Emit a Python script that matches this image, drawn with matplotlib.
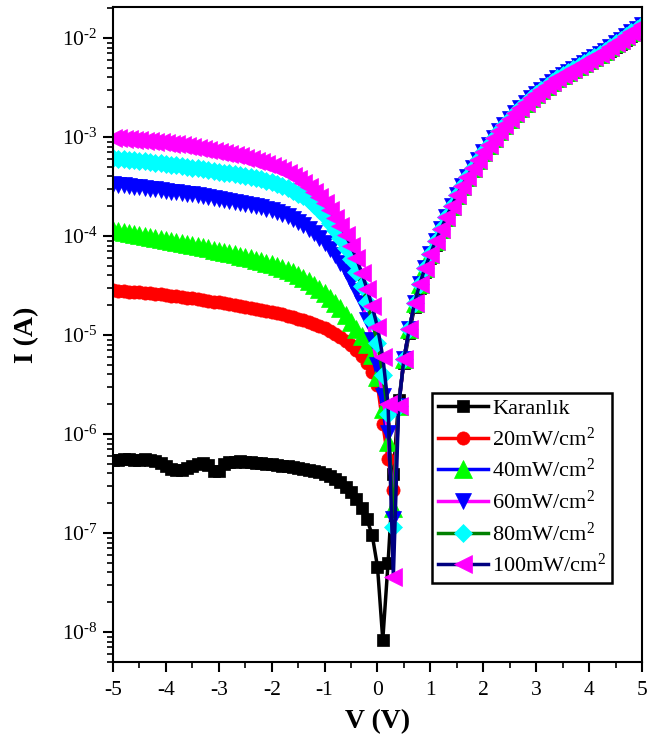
import matplotlib
matplotlib.use('Agg')
import matplotlib.pyplot as plt
import numpy as np
from matplotlib.ticker import FixedLocator, FuncFormatter, MultipleLocator, NullFormatter

plt.rcParams['font.family'] = 'Liberation Serif'
plt.rcParams['mathtext.fontset'] = 'custom'
plt.rcParams['mathtext.rm'] = 'Liberation Serif'
plt.rcParams['mathtext.it'] = 'Liberation Serif:italic'
plt.rcParams['mathtext.bf'] = 'Liberation Serif:bold'
plt.rcParams['axes.unicode_minus'] = False

# voltage sweep, 0.1 V steps
V = np.round(np.arange(-5.0, 5.01, 0.1), 1)

# log10(I) for the reverse side, V = -5.0 ... 0.4
rev_dark = [-6.26, -6.26, -6.25, -6.25, -6.26, -6.26, -6.25, -6.26, -6.27, -6.29,
            -6.32, -6.35, -6.36, -6.36, -6.34, -6.32, -6.30, -6.29, -6.31, -6.37,
            -6.37, -6.30, -6.28, -6.28, -6.27, -6.28, -6.28, -6.29, -6.29, -6.30,
            -6.30, -6.31, -6.32, -6.32, -6.33, -6.34, -6.35, -6.36, -6.37, -6.38,
            -6.40, -6.42, -6.45, -6.48, -6.53, -6.59, -6.66, -6.75, -6.86, -7.02,
            -7.34, -8.08, -7.30, -6.40, -5.66]
rev_20 = [-4.54, -4.55, -4.55, -4.56, -4.56, -4.57, -4.58, -4.58, -4.59, -4.59,
          -4.60, -4.61, -4.61, -4.62, -4.63, -4.63, -4.64, -4.65, -4.66, -4.67,
          -4.67, -4.68, -4.69, -4.70, -4.71, -4.72, -4.73, -4.74, -4.75, -4.76,
          -4.77, -4.78, -4.79, -4.81, -4.82, -4.84, -4.85, -4.87, -4.89, -4.91,
          -4.93, -4.96, -4.99, -5.02, -5.06, -5.10, -5.15, -5.21, -5.28, -5.37,
          -5.50, -5.90, -6.25, -6.57, -5.72]
rev_40 = [-3.94, -3.95, -3.96, -3.97, -3.98, -3.99, -4.00, -4.01, -4.02, -4.03,
          -4.04, -4.05, -4.06, -4.07, -4.08, -4.09, -4.10, -4.11, -4.12, -4.14,
          -4.15, -4.16, -4.17, -4.18, -4.20, -4.21, -4.22, -4.24, -4.25, -4.27,
          -4.28, -4.30, -4.32, -4.34, -4.36, -4.39, -4.42, -4.45, -4.49, -4.53,
          -4.58, -4.63, -4.68, -4.73, -4.80, -4.87, -4.94, -5.01, -5.09, -5.20,
          -5.42, -5.75, -6.08, -6.75, -5.72]
rev_60 = [-3.47, -3.48, -3.48, -3.49, -3.50, -3.50, -3.51, -3.52, -3.52, -3.53,
          -3.54, -3.55, -3.55, -3.56, -3.57, -3.58, -3.59, -3.60, -3.61, -3.62,
          -3.63, -3.64, -3.65, -3.66, -3.67, -3.68, -3.69, -3.70, -3.71, -3.73,
          -3.74, -3.76, -3.78, -3.80, -3.83, -3.86, -3.89, -3.93, -3.97, -4.02,
          -4.07, -4.13, -4.19, -4.27, -4.35, -4.45, -4.55, -4.68, -4.85, -5.05,
          -5.30, -5.62, -5.99, -6.86, -5.72]
rev_80 = [-3.21, -3.22, -3.22, -3.23, -3.23, -3.24, -3.24, -3.25, -3.26, -3.26,
          -3.27, -3.28, -3.28, -3.29, -3.30, -3.31, -3.31, -3.32, -3.33, -3.34,
          -3.35, -3.36, -3.36, -3.37, -3.38, -3.39, -3.40, -3.41, -3.42, -3.44,
          -3.45, -3.47, -3.49, -3.51, -3.54, -3.57, -3.60, -3.64, -3.69, -3.74,
          -3.80, -3.87, -3.94, -4.02, -4.12, -4.23, -4.36, -4.50, -4.67, -4.86,
          -5.08, -5.40, -5.80, -6.94, -5.72]
rev_100 = [-3.01, -3.01, -3.02, -3.02, -3.03, -3.03, -3.04, -3.04, -3.05, -3.05,
           -3.06, -3.07, -3.07, -3.08, -3.09, -3.10, -3.11, -3.12, -3.13, -3.14,
           -3.15, -3.16, -3.17, -3.18, -3.19, -3.21, -3.22, -3.24, -3.25, -3.27,
           -3.29, -3.31, -3.33, -3.36, -3.39, -3.42, -3.46, -3.50, -3.55, -3.61,
           -3.67, -3.74, -3.82, -3.90, -3.99, -4.10, -4.22, -4.37, -4.53, -4.71,
           -4.92, -5.22, -5.70, -7.44, -5.72]

# log10(I) for the forward side, V = 0.5 ... 5.0
fwd_dark = [-5.28, -4.98, -4.72, -4.52, -4.36, -4.22, -4.09, -3.96, -3.84, -3.73,
            -3.62, -3.52, -3.43, -3.34, -3.26, -3.18, -3.11, -3.04, -2.97, -2.91,
            -2.85, -2.79, -2.74, -2.69, -2.64, -2.59, -2.55, -2.51, -2.47, -2.43,
            -2.40, -2.37, -2.34, -2.31, -2.28, -2.25, -2.22, -2.19, -2.16, -2.13,
            -2.09, -2.06, -2.02, -1.98, -1.95, -1.91]
fwd_light = [-5.24, -4.94, -4.68, -4.48, -4.32, -4.18, -4.05, -3.93, -3.81, -3.70,
             -3.59, -3.49, -3.40, -3.31, -3.23, -3.15, -3.08, -3.01, -2.94, -2.88,
             -2.82, -2.76, -2.71, -2.66, -2.61, -2.56, -2.52, -2.48, -2.44, -2.40,
             -2.37, -2.34, -2.31, -2.28, -2.25, -2.22, -2.19, -2.16, -2.13, -2.09,
             -2.05, -2.02, -1.98, -1.94, -1.91, -1.87]

labels = ['Karanlık', '20mW/cm$^2$', '40mW/cm$^2$', '60mW/cm$^2$',
          '80mW/cm$^2$', '100mW/cm$^2$']
curves = [rev_dark + fwd_dark, rev_20 + fwd_light, rev_40 + fwd_light,
          rev_60 + fwd_light, rev_80 + fwd_light, rev_100 + fwd_light]
line_colors = ['black', 'red', 'blue', 'magenta', 'green', 'navy']
marker_colors = ['black', 'red', 'lime', 'blue', 'cyan', 'magenta']
markers = ['s', 'o', '^', 'v', 'D', '<']
msizes = [8.5, 9.5, 12.5, 11.5, 9.2, 13.5]

# decades shown on the current axis
decades = [-8, -7, -6, -5, -4, -3, -2]

fig = plt.figure(figsize=(6.49, 7.47), dpi=100)
ax = fig.add_axes([0.1741, 0.1138, 0.8151, 0.8768])

for logI, lab, lc, mc, mk, ms in zip(curves, labels, line_colors, marker_colors, markers, msizes):
    ax.plot(V, 10 ** np.array(logI), color=lc, lw=2.5, marker=mk, ms=ms,
            markerfacecolor=mc, markeredgecolor=mc, markeredgewidth=0.5, label=lab)

ax.set_yscale('log')
ax.set_xlim(-5, 5)
ax.set_ylim(4.98e-9, 2.06e-2)


def decade_label(y, pos):
    n = int(round(np.log10(y)))
    return r'$\mathdefault{10^{\text{%d}}}$' % n


minor_pos = [m * 10.0 ** d for d in range(-9, -1) for m in range(2, 10)]
minor_pos = [p for p in minor_pos if 4.98e-9 <= p <= 2.06e-2]

ax.xaxis.set_major_locator(MultipleLocator(1))
ax.xaxis.set_minor_locator(MultipleLocator(0.5))
ax.yaxis.set_major_locator(FixedLocator([10.0 ** d for d in decades]))
ax.yaxis.set_major_formatter(FuncFormatter(decade_label))
ax.yaxis.set_minor_locator(FixedLocator(minor_pos))
ax.yaxis.set_minor_formatter(NullFormatter())

ax.tick_params(axis='both', which='major', direction='out', length=7, width=1.5,
               labelsize=15.5, pad=4)
ax.tick_params(axis='x', which='major', pad=7)
ax.tick_params(axis='both', which='minor', direction='out', length=4, width=1.2)
for sp in ax.spines.values():
    sp.set_linewidth(1.5)

ax.set_xlabel('V (V)', fontsize=20, fontweight='bold', labelpad=6)
ax.set_ylabel('I (A)', fontsize=20, fontweight='bold', labelpad=16)

leg = ax.legend(loc='upper left', bbox_to_anchor=(0.603, 0.411), fontsize=16,
                frameon=True, fancybox=False, edgecolor='black', framealpha=1,
                handlelength=2.25, handletextpad=0.2, labelspacing=0.38,
                borderpad=0.25, borderaxespad=0)
leg.get_frame().set_linewidth(1.8)

fig.savefig('out.png', dpi=100)
